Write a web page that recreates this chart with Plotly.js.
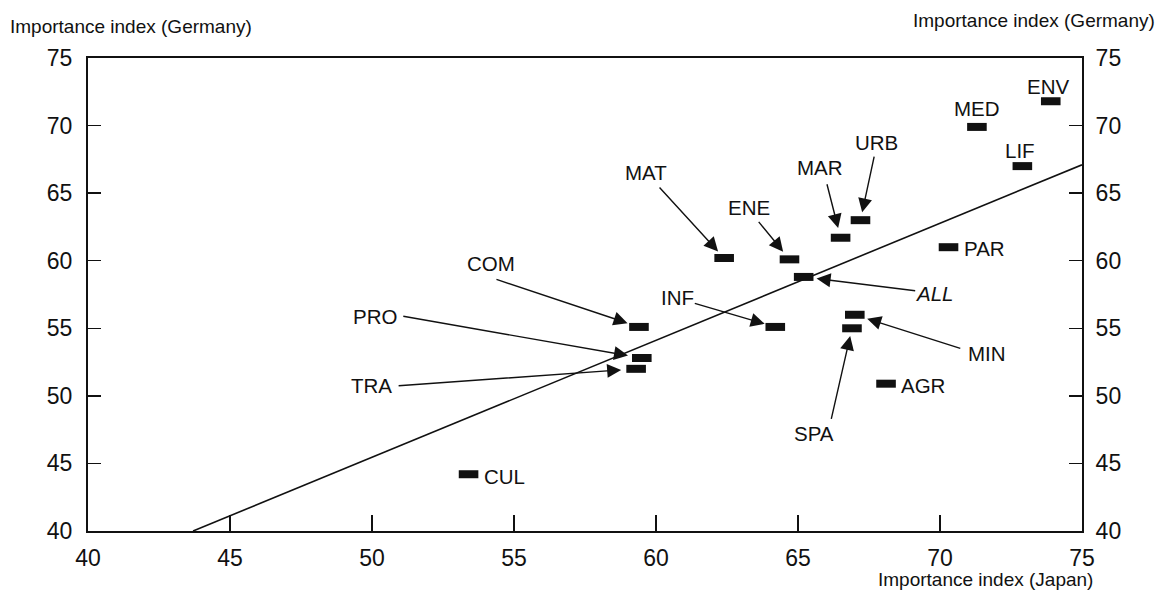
<!DOCTYPE html>
<html>
<head>
<meta charset="utf-8">
<script src="https://cdn.plot.ly/plotly-3.0.1.min.js"></script>
<style>html,body{margin:0;padding:0;background:#fff;}#chart{width:1159px;height:591px;}</style>
</head>
<body>
<div id="chart"></div>
<script>
// ---- data ----
const codes   = ['MAT','ENE','ALL','MAR','URB','PAR','MED','LIF','ENV','COM','PRO','TRA','INF','MIN','SPA','AGR','CUL'];
const japan   = [62.4, 64.7, 65.2, 66.5, 67.2, 70.3, 71.3, 72.9, 73.9, 59.4, 59.5, 59.3, 64.2, 67.0, 66.9, 68.1, 53.4];
const germany = [60.2, 60.1, 58.8, 61.7, 63.0, 61.0, 69.9, 67.0, 71.8, 55.1, 52.8, 52.0, 55.1, 56.0, 55.0, 50.9, 44.2];
const fitX = [43.7, 75];
const fitY = [40, 67.1];
const tickVals = [40, 45, 50, 55, 60, 65, 70, 75];

// ---- label placement (pixels relative to marker) ----
const labelOffset = {
  MAT:[-78,-86], ENE:[-40,-52], MAR:[-21,-70], URB:[16,-78], ALL:[130,17],
  COM:[-148,-63], PRO:[-267,-42], TRA:[-265,17], INF:[-98,-29], MIN:[132,39],
  SPA:[-38,105], PAR:[36,1], MED:[0,-18], LIF:[-2,-16], ENV:[-3,-15], AGR:[37,2], CUL:[36,2]
};
// arrow tails (pixels relative to marker) and standoff
const arrowTail = {
  MAT:[-66,-72,9], ENE:[-32,-39,10], MAR:[-14,-55,10], URB:[14,-65,8], ALL:[113,14,13],
  COM:[-144,-48,12], PRO:[-240,-42,14], TRA:[-239,17,15], INF:[-82,-24,11], MIN:[107,34,13],
  SPA:[-21,92,8]
};

const FONT = 'Liberation Sans, Arial, Helvetica, sans-serif';
const NARROW = 'Liberation Sans Narrow, Arial Narrow, Liberation Sans, Arial, sans-serif';
const annotations = [];
codes.forEach((c, i) => {
  const off = labelOffset[c];
  annotations.push({
    x: japan[i], y: germany[i], xref: 'x', yref: 'y',
    text: c === 'ALL' ? '<i>ALL</i>' : c,
    showarrow: false, xshift: off[0], yshift: -off[1],
    font: {family: NARROW, size: 20.5, color: '#111'}
  });
  if (arrowTail[c]) {
    const t = arrowTail[c];
    annotations.push({
      x: japan[i], y: germany[i], xref: 'x', yref: 'y',
      text: '', showarrow: true, axref: 'pixel', ayref: 'pixel',
      ax: t[0], ay: t[1], standoff: t[2],
      arrowhead: 2, arrowsize: 2, arrowwidth: 1.4, arrowcolor: '#111'
    });
  }
});
// axis titles
annotations.push({xref:'paper', yref:'paper', x:-0.08, y:1.0, yshift:32, xanchor:'left', yanchor:'middle',
  text:'Importance index (Germany)', showarrow:false, font:{family:FONT, size:19, color:'#111'}});
annotations.push({xref:'paper', yref:'paper', x:1.0, y:1.0, xshift:75, yshift:38, xanchor:'right', yanchor:'middle',
  text:'Importance index (Germany)', showarrow:false, font:{family:FONT, size:19, color:'#111'}});
annotations.push({xref:'paper', yref:'paper', x:1.0, y:0, xshift:13, yshift:-48, xanchor:'right', yanchor:'middle',
  text:'Importance index (Japan)', showarrow:false, font:{family:FONT, size:19, color:'#111'}});

const traces = [
  {x: fitX, y: fitY, mode: 'lines', line: {color: '#111', width: 1.6}, hoverinfo: 'skip', showlegend: false},
  {x: japan, y: germany, mode: 'markers', showlegend: false,
   marker: {symbol: 'line-ew', size: 14, color: '#111', line: {color: '#111', width: 8}}},
  {x: [40], y: [40], yaxis: 'y2', mode: 'markers', marker: {opacity: 0}, showlegend: false, hoverinfo: 'skip'}
];

const axisCommon = {
  range: [40, 75], tickvals: tickVals, ticks: 'inside', tickcolor: '#111', tickwidth: 1.5,
  showline: true, linecolor: '#111', linewidth: 2, showgrid: false, zeroline: false,
  tickfont: {family: NARROW, size: 23, color: '#111'}
};

const layout = {
  width: 1159, height: 591,
  margin: {l: 88, r: 77, t: 58, b: 60},
  paper_bgcolor: '#fff', plot_bgcolor: '#fff',
  showlegend: false,
  xaxis: Object.assign({}, axisCommon, {ticklen: 16, mirror: true, ticklabelstandoff: 5}),
  yaxis: Object.assign({}, axisCommon, {ticklen: 13, mirror: false, ticklabelstandoff: 9}),
  yaxis2: Object.assign({}, axisCommon, {ticklen: 13, overlaying: 'y', side: 'right', ticklabelstandoff: 7}),
  annotations: annotations
};

Plotly.newPlot('chart', traces, layout, {staticPlot: true, displayModeBar: false});
</script>
</body>
</html>
